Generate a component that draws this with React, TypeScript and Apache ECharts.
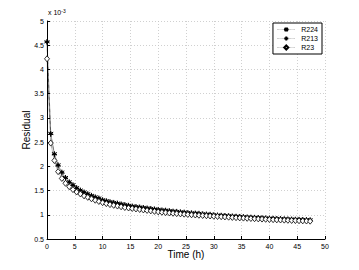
import React, { useEffect, useRef } from "react";
import * as echarts from "echarts";

const timeH: number[] = [
  0, 0.67, 1.33, 2, 2.67, 3.33, 4, 4.67, 5.33, 6, 6.67, 7.33, 8, 8.67, 9.33, 10,
  10.67, 11.33, 12, 12.67, 13.33, 14, 14.67, 15.33, 16, 16.67, 17.33, 18, 18.67, 19.33, 20,
  20.67, 21.33, 22, 22.67, 23.33, 24, 24.67, 25.33, 26, 26.67, 27.33, 28, 28.67, 29.33, 30,
  30.67, 31.33, 32, 32.67, 33.33, 34, 34.67, 35.33, 36, 36.67, 37.33, 38, 38.67, 39.33, 40,
  40.67, 41.33, 42, 42.67, 43.33, 44, 44.67, 45.33, 46, 46.67, 47.33,
];

const r224: number[] = [
  4.57, 2.68, 2.26, 2.03, 1.88, 1.77, 1.68, 1.62, 1.56, 1.51, 1.47, 1.435, 1.4, 1.37, 1.345, 1.31,
  1.29, 1.27, 1.255, 1.24, 1.225, 1.21, 1.195, 1.18, 1.17, 1.16, 1.15, 1.14, 1.13, 1.12, 1.11,
  1.1, 1.095, 1.085, 1.075, 1.07, 1.06, 1.055, 1.045, 1.04, 1.035, 1.03, 1.02, 1.015, 1.01, 1.0,
  0.995, 0.99, 0.985, 0.98, 0.975, 0.97, 0.965, 0.96, 0.955, 0.951, 0.947, 0.943, 0.939, 0.935, 0.931,
  0.927, 0.923, 0.92, 0.917, 0.914, 0.911, 0.908, 0.905, 0.902, 0.899, 0.896,
];

const r213: number[] = [
  4.57, 2.66, 2.24, 2.01, 1.865, 1.755, 1.665, 1.605, 1.545, 1.495, 1.455, 1.42, 1.385, 1.355, 1.33, 1.295,
  1.275, 1.255, 1.24, 1.225, 1.21, 1.195, 1.18, 1.166, 1.156, 1.146, 1.136, 1.126, 1.116, 1.106, 1.097,
  1.087, 1.082, 1.072, 1.063, 1.058, 1.048, 1.043, 1.034, 1.029, 1.024, 1.019, 1.009, 1.004, 0.999, 0.99,
  0.985, 0.98, 0.975, 0.97, 0.965, 0.96, 0.955, 0.95, 0.945, 0.941, 0.937, 0.933, 0.929, 0.925, 0.921,
  0.917, 0.913, 0.91, 0.907, 0.904, 0.901, 0.898, 0.895, 0.892, 0.889, 0.886,
];

const r23: number[] = [
  4.22, 2.48, 2.12, 1.89, 1.75, 1.65, 1.58, 1.52, 1.47, 1.43, 1.39, 1.36, 1.33, 1.3, 1.275, 1.25,
  1.23, 1.21, 1.195, 1.18, 1.165, 1.15, 1.14, 1.13, 1.12, 1.11, 1.1, 1.09, 1.08, 1.07, 1.06,
  1.052, 1.045, 1.038, 1.031, 1.024, 1.018, 1.012, 1.006, 1.0, 0.995, 0.99, 0.985, 0.98, 0.975, 0.97,
  0.965, 0.96, 0.955, 0.95, 0.945, 0.94, 0.935, 0.931, 0.927, 0.923, 0.919, 0.915, 0.911, 0.907, 0.903,
  0.899, 0.895, 0.892, 0.889, 0.886, 0.883, 0.88, 0.877, 0.874, 0.871, 0.868,
];

const seriesNames: string[] = ["R224", "R213", "R23"];
const xTicks = { min: 0, max: 50, interval: 5 };
const yTicks = { min: 0.5, max: 5, interval: 0.5 };

const FONT = "Liberation Sans, Arial, sans-serif";

const starPath =
  "path://M0,-5L0,5M-4.33,-2.5L4.33,2.5M-4.33,2.5L4.33,-2.5M-3,0L3,0";
const plusPath = "path://M0,-5L0,5M-5,0L5,0";

export default function App() {
  const ref = useRef<HTMLDivElement>(null);
  useEffect(() => {
    if (!ref.current) return;
    const chart = echarts.init(ref.current, null, { renderer: "svg" });
    const mk = (vals: number[]) => timeH.map((t, i) => [t, vals[i]]);
    const lineStyle = { color: "#000", width: 0.6, type: "dotted" as const };
    chart.setOption({
      animation: false,
      backgroundColor: "#fff",
      textStyle: { fontFamily: FONT },
      grid: { left: 47, right: 34, top: 21, bottom: 31, containLabel: false },
      legend: {
        right: 37,
        top: 23,
        orient: "vertical",
        backgroundColor: "#fff",
        borderColor: "#000",
        borderWidth: 1,
        padding: [3, 4, 3, 4],
        itemGap: 2,
        itemWidth: 18,
        itemHeight: 5,
        lineStyle: { width: 0.6, color: "#777", type: "dotted" },
        textStyle: { fontSize: 7, fontFamily: FONT, color: "#000", padding: [0, 0, 0, 1] },
        data: seriesNames,
      },
      xAxis: {
        type: "value",
        min: xTicks.min,
        max: xTicks.max,
        interval: xTicks.interval,
        name: "Time (h)",
        nameLocation: "middle",
        nameGap: 10,
        nameMoveOverlap: false,
        nameTextStyle: { fontSize: 10, color: "#000", fontFamily: FONT, verticalAlign: "top" },
        axisLine: { lineStyle: { color: "#000", width: 1 } },
        axisTick: { inside: true, length: 3, lineStyle: { color: "#000" } },
        axisLabel: { fontSize: 7, color: "#000", margin: 4, fontFamily: FONT },
        splitLine: { show: true, lineStyle: { color: "#c4c4c4", type: [1, 2], width: 0.8 } },
      },
      yAxis: {
        type: "value",
        min: yTicks.min,
        max: yTicks.max,
        interval: yTicks.interval,
        name: "Residual",
        nameLocation: "middle",
        nameGap: 16,
        nameMoveOverlap: false,
        nameTextStyle: { fontSize: 10, color: "#000", fontFamily: FONT },
        axisLine: { show: true, lineStyle: { color: "#000", width: 1 } },
        axisTick: { show: true, inside: true, length: 3, lineStyle: { color: "#000" } },
        axisLabel: { fontSize: 7, color: "#000", margin: 3, fontFamily: FONT },
        splitLine: { show: true, lineStyle: { color: "#c4c4c4", type: [1, 2], width: 0.8 } },
      },
      graphic: [
        {
          type: "text",
          left: 48,
          top: 8,
          style: {
            text: "x 10{s|-3}",
            fontSize: 7,
            fontFamily: FONT,
            fill: "#000",
            rich: { s: { fontSize: 5, verticalAlign: "top", padding: [0, 0, 4, 0], fontFamily: FONT } },
          },
        },
      ],
      series: [
        {
          name: seriesNames[0],
          type: "line",
          data: mk(r224),
          symbol: starPath,
          symbolSize: 5,
          itemStyle: { color: "#000", borderColor: "#000", borderWidth: 1 },
          lineStyle,
          z: 3,
        },
        {
          name: seriesNames[1],
          type: "line",
          data: mk(r213),
          symbol: plusPath,
          symbolSize: 5,
          itemStyle: { color: "#000", borderColor: "#000", borderWidth: 1 },
          lineStyle,
          z: 2,
        },
        {
          name: seriesNames[2],
          type: "line",
          data: mk(r23),
          symbol: "diamond",
          symbolSize: [5, 6],
          itemStyle: { color: "#fff", borderColor: "#000", borderWidth: 0.8 },
          lineStyle,
          z: 4,
        },
      ],
    });
    return () => chart.dispose();
  }, []);
  return (
    <div
      ref={ref}
      style={{ position: "absolute", left: 0, top: 0, width: 359, height: 270 }}
    />
  );
}
